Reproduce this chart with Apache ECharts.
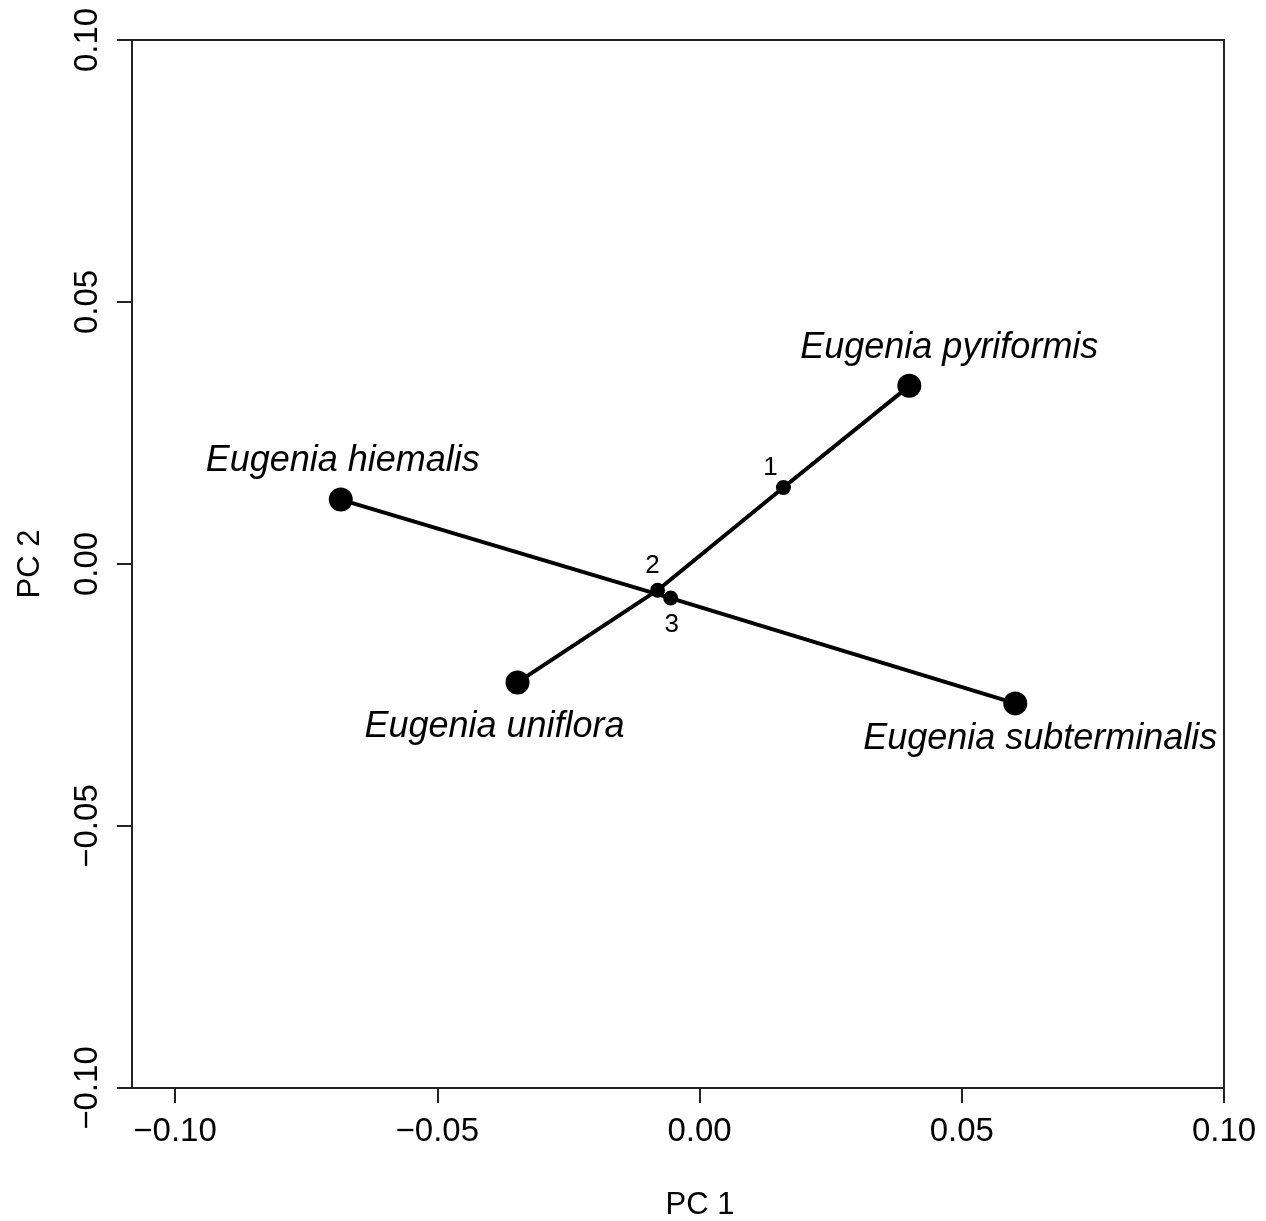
<!DOCTYPE html>
<html>
<head>
<meta charset="utf-8">
<script src="https://cdn.jsdelivr.net/npm/echarts@6/dist/echarts.min.js"></script>
<style>
html,body{margin:0;padding:0;background:#fff;}
#chart{width:1266px;height:1221px;}
</style>
</head>
<body>
<div id="chart"></div>
<script>
// ---- data ----
var speciesNames = ['Eugenia hiemalis', 'Eugenia subterminalis', 'Eugenia uniflora', 'Eugenia pyriformis'];
var speciesPC1 = [-0.0684, 0.0602, -0.0347, 0.0400];
var speciesPC2 = [0.0123, -0.0266, -0.0226, 0.0340];

var midNames = ['1', '2', '3'];
var midPC1 = [0.0160, -0.0080, -0.0055];
var midPC2 = [0.0146, -0.0050, -0.0065];

// line paths (by name)
var pathA = ['Eugenia hiemalis', '3', 'Eugenia subterminalis'];
var pathB = ['Eugenia uniflora', '2', '1', 'Eugenia pyriformis'];

var tickValues = [-0.10, -0.05, 0.00, 0.05, 0.10];

// ---- build ----
var lookup = {};
speciesNames.forEach(function (n, i) { lookup[n] = [speciesPC1[i], speciesPC2[i]]; });
midNames.forEach(function (n, i) { lookup[n] = [midPC1[i], midPC2[i]]; });

var labelOffsets = {
  'Eugenia hiemalis': [2, -39],
  'Eugenia subterminalis': [25, 36],
  'Eugenia uniflora': [-23, 45],
  'Eugenia pyriformis': [40, -38],
  '1': [-13, -20],
  '2': [-5, -24],
  '3': [1, 27]
};

function fmt(v) {
  var s = Math.abs(v).toFixed(2);
  return (v < -1e-9 ? '\u2212' : '') + s;
}

var FONT = '"Liberation Sans", Arial, Helvetica, sans-serif';

function pointData(names, xs, ys) {
  return names.map(function (n, i) {
    return {
      name: n,
      value: [xs[i], ys[i]],
      label: { offset: labelOffsets[n] }
    };
  });
}

var chart = echarts.init(document.getElementById('chart'), null, { renderer: 'canvas' });

var option = {
  animation: false,
  backgroundColor: '#ffffff',
  grid: {
    left: 132, top: 40, right: 42, bottom: 133,
    outerBoundsMode: 'none',
    containLabel: false,
    show: true, borderColor: '#222', borderWidth: 2, backgroundColor: 'transparent'
  },
  xAxis: {
    type: 'value',
    min: -0.1082, max: 0.10,
    name: 'PC 1',
    nameLocation: 'middle',
    nameGap: 102,
    nameTextStyle: { fontFamily: FONT, fontSize: 31, color: '#000', padding: [0, 0, 0, 44] },
    axisLine: { show: true, onZero: false, lineStyle: { color: '#222', width: 2 } },
    splitLine: { show: false },
    axisTick: { show: true, inside: false, length: 15, customValues: tickValues, lineStyle: { color: '#222', width: 2 } },
    axisLabel: { customValues: tickValues, formatter: fmt, margin: 27, fontFamily: FONT, fontSize: 33, color: '#000' }
  },
  yAxis: {
    type: 'value',
    min: -0.10, max: 0.10, interval: 0.05,
    name: 'PC 2',
    nameLocation: 'middle',
    nameGap: 86,
    nameRotate: 90,
    nameTextStyle: { fontFamily: FONT, fontSize: 31, color: '#000' },
    axisLine: { show: true, onZero: false, lineStyle: { color: '#222', width: 2 } },
    splitLine: { show: false },
    axisTick: { show: true, inside: false, length: 15, lineStyle: { color: '#222', width: 2 } },
    axisLabel: { rotate: 90, formatter: fmt, margin: 28, fontFamily: FONT, fontSize: 33, color: '#000' }
  },
  series: [
    {
      type: 'line',
      data: pathA.map(function (n) { return lookup[n]; }),
      showSymbol: false, symbol: 'none',
      lineStyle: { color: '#000', width: 4 },
      silent: true, z: 2
    },
    {
      type: 'line',
      data: pathB.map(function (n) { return lookup[n]; }),
      showSymbol: false, symbol: 'none',
      lineStyle: { color: '#000', width: 4 },
      silent: true, z: 2
    },
    {
      type: 'scatter',
      data: pointData(speciesNames, speciesPC1, speciesPC2),
      symbolSize: 24,
      itemStyle: { color: '#000', opacity: 1 },
      z: 3,
      label: {
        show: true, position: 'inside',
        formatter: '{b}',
        fontFamily: FONT, fontSize: 36, fontStyle: 'italic', color: '#000'
      }
    },
    {
      type: 'scatter',
      data: pointData(midNames, midPC1, midPC2),
      symbolSize: 15,
      itemStyle: { color: '#000', opacity: 1 },
      z: 4,
      label: {
        show: true, position: 'inside',
        formatter: '{b}',
        fontFamily: FONT, fontSize: 26, color: '#000'
      }
    }
  ]
};
chart.setOption(option);
</script>
</body>
</html>
